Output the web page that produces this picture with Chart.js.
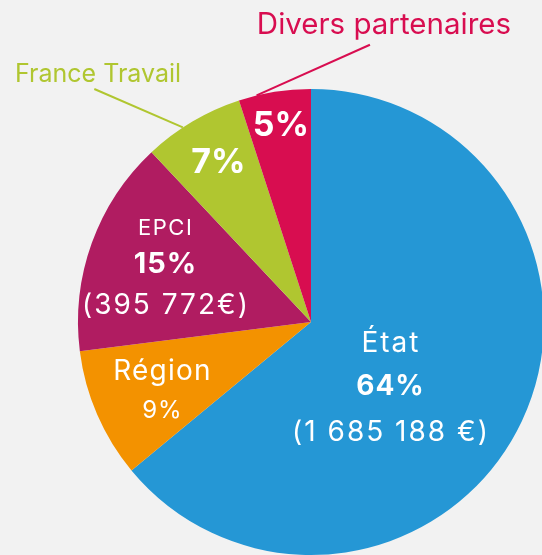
<!DOCTYPE html>
<html lang="fr">
<head>
<meta charset="UTF-8">
<title>Répartition des financements</title>
<script src="https://cdn.jsdelivr.net/npm/chart.js"></script>
<style>
  html, body { margin: 0; padding: 0; background: #f2f2f2; overflow: hidden; width: 542px; height: 555px; }
  #wrap { position: absolute; left: -39px; top: -28px; width: 700px; height: 700px; }
</style>
</head>
<body>
<div id="wrap"><canvas id="graphique" width="700" height="700"></canvas></div>

<script>
// données
const categories = ['État', 'Région', 'EPCI', 'France Travail', 'Divers partenaires'];
const parts = [64, 9, 15, 7, 5];
const montants = ['(1 685 188 €)', '', '(395 772€)', '', ''];
const couleurs = ['#2597d5', '#f39200', '#b01c61', '#b0c630', '#d80d50'];

// mise en page des étiquettes (en fraction du rayon, depuis le centre)
// ligne : [type, police, espacement]  type 0 = nom, 1 = part, 2 = montant
const etiquettes = [
  { lignes: [[0, '400 28px Inter', 2], [1, '700 28px Inter', 1], [2, '400 28px Inter', 2]],
    x: 0.339, y: [0.086, 0.270, 0.464] },
  { lignes: [[0, '400 28px Inter', 1.2], [1, '400 24px Inter', 1]],
    x: -0.64, y: [0.206, 0.373] },
  { lignes: [[0, '400 22px Inter', 1.5], [1, '700 29px Inter', 1], [2, '400 28px Inter', 2]],
    x: -0.627, y: [-0.412, -0.258, -0.077] },
  { lignes: [[1, '700 34px Inter', 0]], x: -0.397, y: [-0.691],
    ext: { texte: [-0.914, -1.073], font: '400 25px Inter', trait: [-0.93, -1.0], frac: 0.39 } },
  { lignes: [[1, '700 34px Inter', 0]], x: -0.129, y: [-0.850],
    ext: { texte: [0.313, -1.283], font: '400 29.5px Inter', trait: [0.253, -1.19], frac: 0.25 } }
];

const pluginEtiquettes = {
  id: 'etiquettes',
  afterDatasetsDraw(chart) {
    const ctx = chart.ctx;
    const arcs = chart.getDatasetMeta(0).data;
    const dy = 2; // petit recentrage vertical du texte
    ctx.save();
    ctx.textAlign = 'center';
    ctx.textBaseline = 'middle';
    arcs.forEach((arc, i) => {
      const { x: cx, y: cy, outerRadius: r, startAngle, endAngle } = arc.getProps(['x', 'y', 'outerRadius', 'startAngle', 'endAngle'], true);
      const e = etiquettes[i];
      ctx.fillStyle = '#ffffff';
      e.lignes.forEach((l, k) => {
        let txt;
        if (l[0] === 0) txt = categories[i];
        else if (l[0] === 1) txt = parts[i] + '%';
        else txt = montants[i];
        ctx.font = l[1];
        ctx.letterSpacing = l[2] + 'px';
        ctx.fillText(txt, cx + e.x * r + l[2] / 2, cy + e.y[k] * r + dy);
      });
      ctx.letterSpacing = '0px';
      if (e.ext) {
        const a = startAngle + (endAngle - startAngle) * e.ext.frac;
        ctx.strokeStyle = couleurs[i];
        ctx.lineWidth = 2;
        ctx.beginPath();
        ctx.moveTo(cx + Math.cos(a) * r, cy + Math.sin(a) * r);
        ctx.lineTo(cx + e.ext.trait[0] * r, cy + e.ext.trait[1] * r);
        ctx.stroke();
        ctx.fillStyle = couleurs[i];
        ctx.font = e.ext.font;
        ctx.fillText(categories[i], cx + e.ext.texte[0] * r, cy + e.ext.texte[1] * r + dy);
      }
    });
    ctx.restore();
  }
};

new Chart(document.getElementById('graphique'), {
  type: 'pie',
  data: {
    labels: categories,
    datasets: [{
      data: parts,
      backgroundColor: couleurs,
      borderWidth: 0
    }]
  },
  options: {
    responsive: false,
    animation: false,
    layout: { padding: 117 },
    plugins: {
      legend: { display: false },
      tooltip: { enabled: false }
    }
  },
  plugins: [pluginEtiquettes]
});
</script>
</body>
</html>
